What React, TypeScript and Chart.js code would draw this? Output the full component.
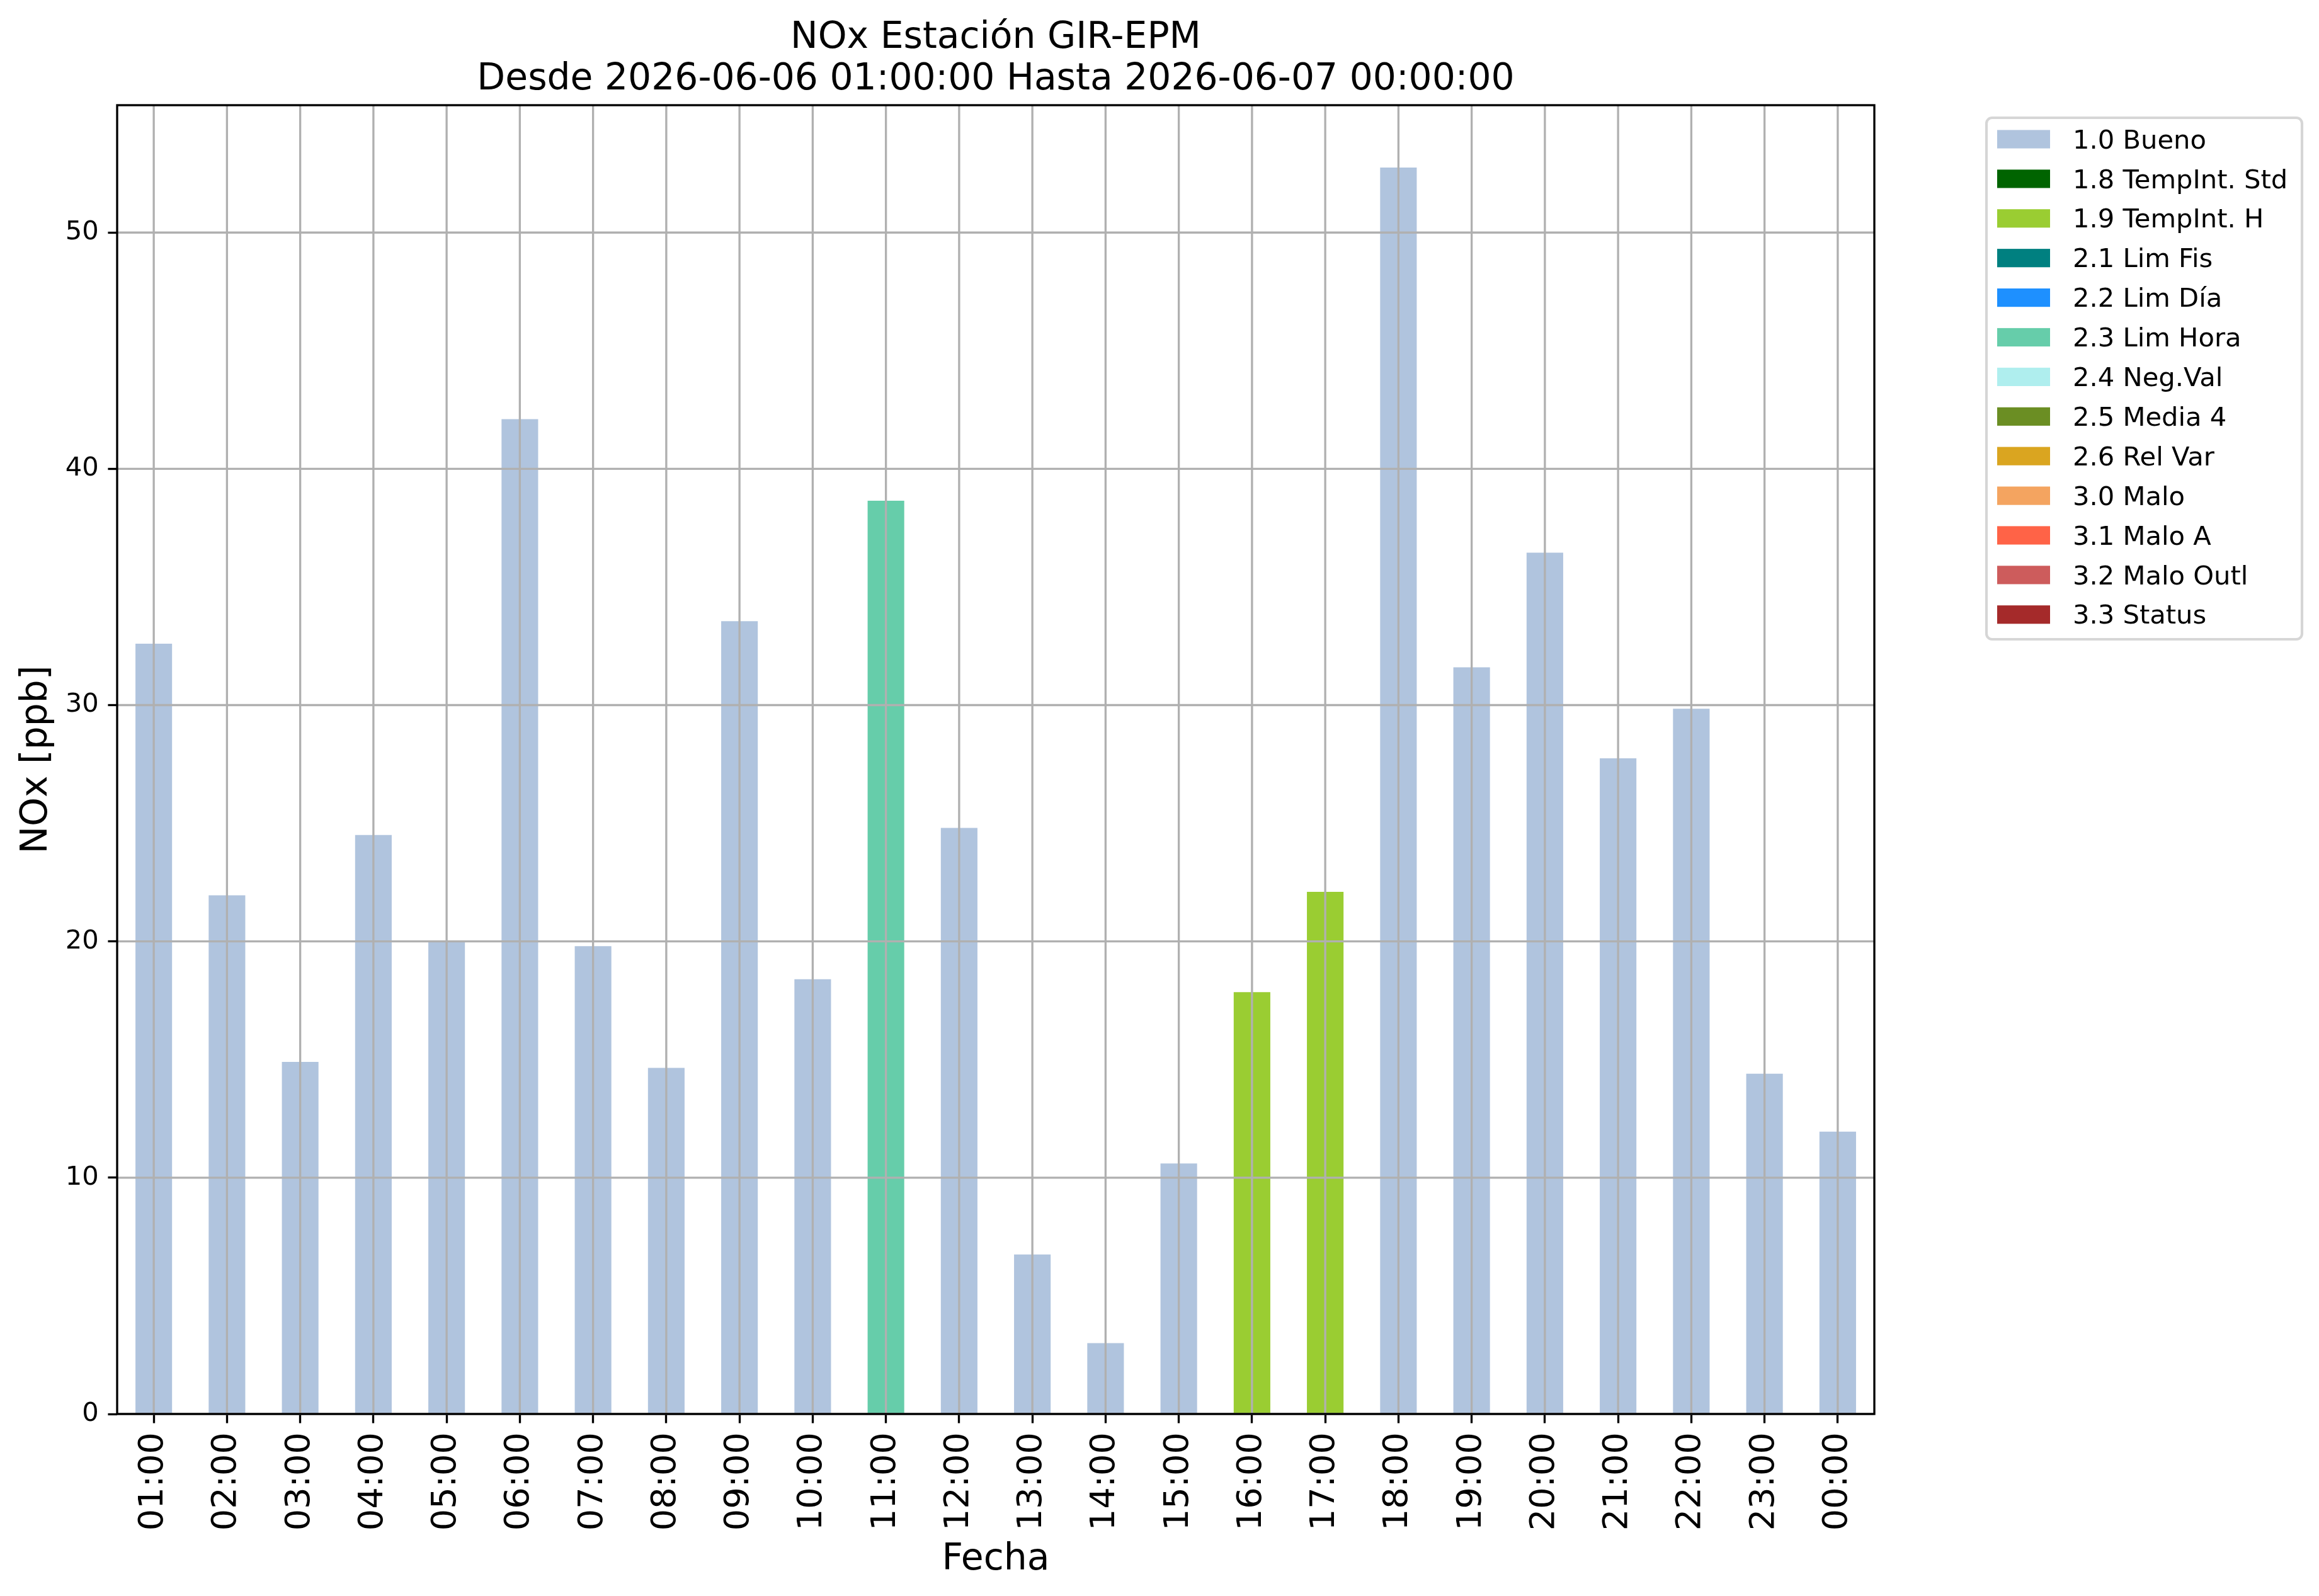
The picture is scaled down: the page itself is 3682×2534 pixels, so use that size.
import React, { useEffect, useRef } from "react";
import { Chart, registerables } from "chart.js";

Chart.register(...registerables);

const hours = [
  "01:00", "02:00", "03:00", "04:00", "05:00", "06:00", "07:00", "08:00",
  "09:00", "10:00", "11:00", "12:00", "13:00", "14:00", "15:00", "16:00",
  "17:00", "18:00", "19:00", "20:00", "21:00", "22:00", "23:00", "00:00",
];

const noxValues = [
  32.6, 21.95, 14.9, 24.5, 20.0, 42.1, 19.8, 14.65, 33.55, 18.4, 38.65, 24.8,
  6.75, 3.0, 10.6, 17.85, 22.1, 52.75, 31.6, 36.45, 27.75, 29.85, 14.4, 11.95,
];

const hourFlags = [
  "1.0", "1.0", "1.0", "1.0", "1.0", "1.0", "1.0", "1.0", "1.0", "1.0", "2.3", "1.0",
  "1.0", "1.0", "1.0", "1.9", "1.9", "1.0", "1.0", "1.0", "1.0", "1.0", "1.0", "1.0",
];

const flagCodes = ["1.0", "1.8", "1.9", "2.1", "2.2", "2.3", "2.4", "2.5", "2.6", "3.0", "3.1", "3.2", "3.3"];
const flagNames = [
  "1.0 Bueno", "1.8 TempInt. Std", "1.9 TempInt. H", "2.1 Lim Fis", "2.2 Lim Día",
  "2.3 Lim Hora", "2.4 Neg.Val", "2.5 Media 4", "2.6 Rel Var", "3.0 Malo",
  "3.1 Malo A", "3.2 Malo Outl", "3.3 Status",
];
const flagColors = [
  "#B0C4DE", "#006400", "#9ACD32", "#008080", "#1E90FF", "#66CDAA", "#AFEEEE",
  "#6B8E23", "#DAA520", "#F4A460", "#FF6347", "#CD5C5C", "#A52A2A",
];

const yTicks = [0, 10, 20, 30, 40, 50];
const yMax = 55.39;

const titleLines = ["NOx Estación GIR-EPM", "Desde 2026-06-06 01:00:00 Hasta 2026-06-07 00:00:00"];
const xTitle = "Fecha";
const yTitle = "NOx [ppb]";

const W = 3682;
const H = 2534;
const PT = 300 / 72;
const FONT = "'DejaVu Sans', 'Liberation Sans', sans-serif";

const decorPlugin = {
  id: "decor",
  afterDatasetsDraw(chart: any) {
    const ctx = chart.ctx;
    const area = chart.chartArea;
    const xs = chart.scales.x;
    const ys = chart.scales.y;
    ctx.save();
    // grid on top of bars (matplotlib style)
    ctx.strokeStyle = "#b0b0b0";
    ctx.lineWidth = 0.8 * PT;
    ctx.beginPath();
    for (let i = 0; i < hours.length; i++) {
      const px = xs.getPixelForTick(i);
      ctx.moveTo(px, area.top);
      ctx.lineTo(px, area.bottom);
    }
    for (const v of yTicks) {
      const py = ys.getPixelForValue(v);
      ctx.moveTo(area.left, py);
      ctx.lineTo(area.right, py);
    }
    ctx.stroke();
    // spines
    ctx.strokeStyle = "#000";
    ctx.lineWidth = 0.8 * PT;
    ctx.strokeRect(area.left, area.top, area.right - area.left, area.bottom - area.top);
    ctx.restore();
  },
  afterDraw(chart: any) {
    const ctx = chart.ctx;
    const area = chart.chartArea;
    const cx = (area.left + area.right) / 2;
    const cy = (area.top + area.bottom) / 2;
    ctx.save();
    ctx.fillStyle = "#000";
    // title
    ctx.font = `${14 * PT}px ${FONT}`;
    ctx.textAlign = "center";
    ctx.textBaseline = "alphabetic";
    ctx.fillText(titleLines[0], cx, 75.7);
    ctx.fillText(titleLines[1], cx, 141.7);
    // x label
    ctx.fillText(xTitle, cx, 2492);
    // y label
    ctx.save();
    ctx.translate(74, cy);
    ctx.rotate(-Math.PI / 2);
    ctx.fillText(yTitle, 0, 0);
    ctx.restore();

    // legend
    const lx = area.right + 178;
    const ly = 187;
    const lw = 501;
    const lh = 828;
    ctx.beginPath();
    ctx.roundRect(lx, ly, lw, lh, 9);
    ctx.fillStyle = "rgba(255,255,255,0.8)";
    ctx.fill();
    ctx.strokeStyle = "#d6d6d6";
    ctx.lineWidth = 1 * PT;
    ctx.stroke();
    ctx.font = `${10 * PT}px ${FONT}`;
    ctx.textAlign = "left";
    ctx.textBaseline = "alphabetic";
    chart.data.datasets.forEach((ds: any, i: number) => {
      const rowC = 221 + i * 62.9;
      ctx.fillStyle = ds.backgroundColor;
      ctx.fillRect(lx + 17, rowC - 14.6, 84, 29.2);
      ctx.fillStyle = "#000";
      ctx.fillText(ds.label, lx + 137, rowC + 14.6);
    });
    ctx.restore();
  },
};

export default function App() {
  const ref = useRef<HTMLCanvasElement>(null);
  useEffect(() => {
    if (!ref.current) return;
    const datasets = flagCodes.map((code, k) => ({
      label: flagNames[k],
      data: noxValues.map((v, i) => (hourFlags[i] === code ? v : null)),
      backgroundColor: flagColors[k],
      borderWidth: 0,
      categoryPercentage: 1,
      barPercentage: 0.5,
    }));
    const chart = new Chart(ref.current, {
      type: "bar",
      data: { labels: hours, datasets },
      options: {
        animation: false,
        responsive: false,
        devicePixelRatio: 1,
        layout: { padding: { top: 167, right: W - 2976, left: 0, bottom: 0 } },
        plugins: {
          legend: { display: false },
          title: { display: false },
          tooltip: { enabled: false },
        },
        scales: {
          x: {
            stacked: true,
            offset: true,
            border: { display: false },
            grid: {
              display: true,
              offset: false,
              drawOnChartArea: false,
              drawTicks: true,
              tickLength: 3.5 * PT,
              tickColor: "#000",
              tickWidth: 0.8 * PT,
            },
            ticks: {
              autoSkip: false,
              minRotation: 90,
              maxRotation: 90,
              padding: 3.5 * PT,
              color: "#000",
              font: { family: FONT, size: 13 * PT },
            },
            afterFit: (scale: any) => {
              scale.height = H - 2245;
            },
          },
          y: {
            stacked: true,
            min: 0,
            max: yMax,
            border: { display: false },
            grid: {
              display: true,
              drawOnChartArea: false,
              drawTicks: true,
              tickLength: 3.5 * PT,
              tickColor: "#000",
              tickWidth: 0.8 * PT,
            },
            ticks: {
              padding: 3.5 * PT,
              color: "#000",
              font: { family: FONT, size: 10 * PT },
            },
            afterBuildTicks: (scale: any) => {
              scale.ticks = yTicks.map((v) => ({ value: v }));
            },
            afterFit: (scale: any) => {
              scale.width = 186;
            },
          },
        },
      },
      plugins: [decorPlugin],
    });
    return () => chart.destroy();
  }, []);
  return (
    <div style={{ position: "absolute", left: 0, top: 0, width: W, height: H, background: "#fff" }}>
      <canvas ref={ref} width={W} height={H} style={{ display: "block" }} />
    </div>
  );
}
